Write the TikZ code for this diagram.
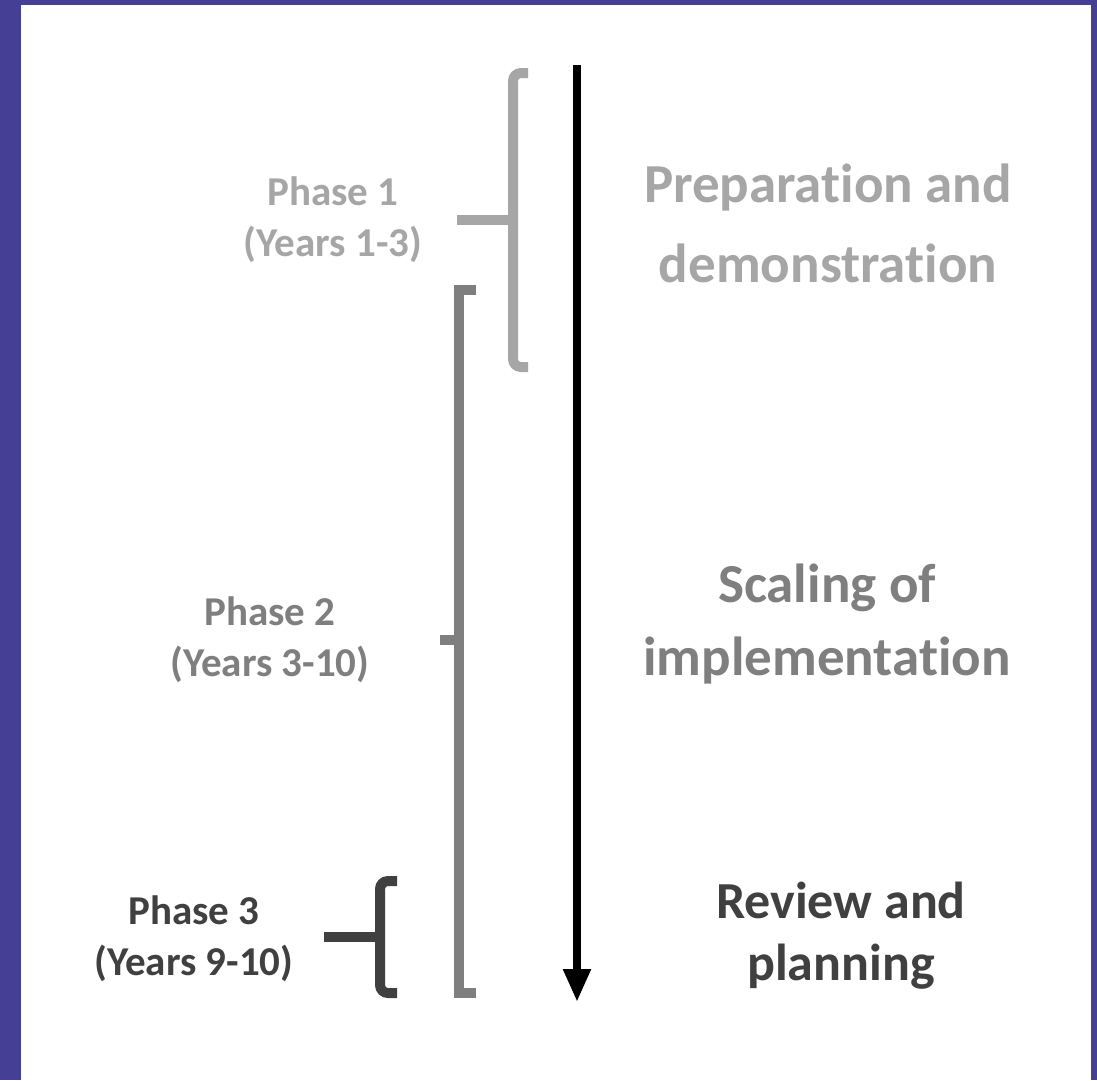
\documentclass[tikz,border=0pt]{standalone}
\usepackage{fontspec}
\setmainfont[Ligatures=NoCommon]{Carlito}
\usetikzlibrary{arrows.meta}

\definecolor{frameblue}{HTML}{453F95}
\definecolor{lightgrey}{HTML}{A6A6A6}
\definecolor{midgrey}{HTML}{7F7F7F}
\definecolor{darkgrey}{HTML}{404040}

\begin{document}
\begin{tikzpicture}[x=1pt, y=-1pt,
    bar/.style={line width=10pt},
    phase/.style={font=\bfseries\fontsize{41}{51}\selectfont, align=center, inner sep=0pt, anchor=base},
    stage/.style={font=\bfseries\fontsize{55}{80}\selectfont, align=center, inner sep=0pt, anchor=base}]
  \useasboundingbox (0,0) rectangle (1097,1080);
  \fill[frameblue] (0,0) rectangle (1097,1080);
  \fill[white] (21,5) rectangle (1091,1080);

  % brackets, one per phase
  \draw[bar, lightgrey, rounded corners=8pt] (528,73) -- (513,73) -- (513,367) -- (528,367);
  \draw[bar, lightgrey] (457,220) -- (513,220);
  \draw[bar, midgrey] (476,290) -- (459,290) -- (459,993) -- (476,993);
  \draw[bar, midgrey] (440,640) -- (459,640);
  \draw[bar, darkgrey, rounded corners=8pt] (397,881) -- (380,881) -- (380,993) -- (397,993);
  \draw[bar, darkgrey] (324,937) -- (380,937);

  % time axis
  \coordinate (start) at (577,65);
  \coordinate (end) at (577,1002);
  \draw[line width=8pt, -{Triangle[width=26pt, length=33pt]}] (start) -- (end);

  % phase labels (base = last line)
  \node[phase, lightgrey] (p1) at (333,256) {Phase 1\\(Years 1-3)};
  \node[phase, midgrey] (p2) at (270,676) {Phase 2\\(Years 3-10)};
  \node[phase, darkgrey] (p3) at (194,975) {Phase 3\\(Years 9-10)};

  % what happens in each phase
  \node[stage, lightgrey] (s1) at (828,282) {Preparation and\\demonstration};
  \node[stage, midgrey, font=\bfseries\fontsize{55}{73}\selectfont] (s2) at (827,675) {Scaling of\\implementation};
  \node[stage, darkgrey, font=\bfseries\fontsize{52}{62}\selectfont] (s3) at (841,980) {Review and\\planning};
\end{tikzpicture}
\end{document}
